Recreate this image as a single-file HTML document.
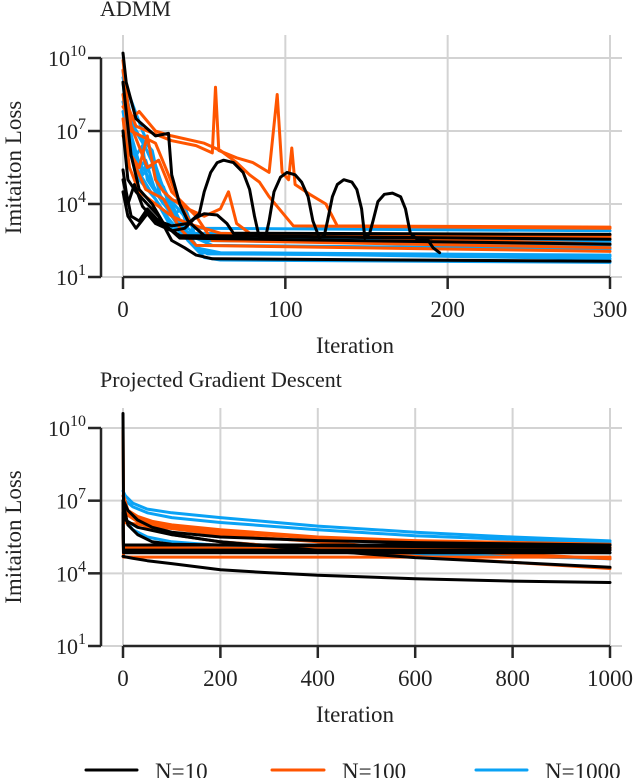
<!DOCTYPE html>
<html><head><meta charset="utf-8"><style>
html,body{margin:0;padding:0;background:#fff;}
svg{display:block;font-family:"Liberation Serif",serif;}
</style></head><body>
<svg id="fig" width="634" height="778" viewBox="0 0 634 778">
<g id="top"></g>
<g id="bot"></g>
<g id="legend">
 <line x1="86" y1="770" x2="137" y2="770" stroke="#000" stroke-width="3" stroke-linecap="round"/>
 <text x="155" y="779" font-size="23" fill="#222">N=10</text>
 <line x1="272" y1="770" x2="324" y2="770" stroke="#ff5500" stroke-width="3" stroke-linecap="round"/>
 <text x="342" y="779" font-size="23" fill="#222">N=100</text>
 <line x1="476" y1="770" x2="527" y2="770" stroke="#0aa2f5" stroke-width="3" stroke-linecap="round"/>
 <text x="545" y="779" font-size="23" fill="#222">N=1000</text>
</g>
</svg>
<script>
// ---- data (log10 of imitation loss) ----
const colors = {k:"#000000", o:"#ff5500", b:"#0aa2f5"};
const xTicksTop = [0,100,200,300];
const xTicksBot = [0,200,400,600,800,1000];
const yTickExps = [1,4,7,10];
const topBlue = [
 [[0,9.5],[2,8],[5,6.5],[10,5.5],[14,5.8],[20,4.5],[25,4.7],[30,3.5],[40,2.5],[50,1.8],[60,1.7],[300,1.6]],
 [[0,9],[3,7],[8,6],[12,6.4],[15,5],[25,4],[28,4.3],[35,3],[45,2.2],[60,2.0],[300,1.9]],
 [[0,8.5],[4,7.5],[10,6.8],[18,6.2],[22,5],[30,4],[34,4.2],[40,3],[50,2.5],[300,2.3]],
 [[0,7.8],[5,6],[12,5.5],[20,4.6],[32,3.6],[38,3.9],[45,2.6],[55,2.3],[300,2.15]],
 [[0,9.2],[6,7.2],[14,6.3],[24,4.8],[36,3.2],[48,2.0],[300,1.75]],
 [[1,8],[10,5],[20,4.2],[30,3],[42,2.8],[300,2.7]],
 [[0,7],[8,5.5],[18,4.4],[28,3.4],[38,2.6],[300,2.45]],
 [[2,8.8],[12,7],[16,6.4],[26,4.4],[34,3.8],[44,3.0],[300,2.9]],
 [[0,8.2],[6,6.6],[12,5.2],[18,5.6],[24,4.1],[32,3.4],[42,2.4],[52,1.95],[300,1.85]]
];
const topOrange = [
 [[0,9.9],[3,8],[8,7.2],[15,7.0],[30,6.6],[45,6.4],[55,6.1],[57,8.8],[59,6.2],[70,5.9],[80,5.7],[90,5.3],[95,8.5],[98,5.3],[102,5.0],[104,6.3],[106,4.8],[115,4.4],[125,4.0],[132,3.1],[300,3.05]],
 [[0,8],[5,7.5],[10,7.8],[20,7.0],[30,6.8],[50,6.5],[60,6.2],[70,5.7],[78,5.2],[84,4.9],[90,4.3],[100,3.5],[105,3.1],[300,3.0]],
 [[0,8.5],[5,6],[10,5.5],[15,6.8],[20,5],[25,4.5],[30,4.2],[40,3.8],[50,3.5],[60,3.8],[65,4.5],[70,3.2],[80,2.7],[300,2.6]],
 [[0,7.5],[4,5.5],[10,4.5],[20,4.0],[30,3.5],[40,3.2],[60,2.8],[300,2.35]],
 [[0,6.8],[6,5.8],[14,4.6],[25,4.2],[35,3.0],[45,2.3],[300,2.05]],
 [[0,9],[5,7],[20,6.5],[28,5.2],[35,4.0],[42,3.2],[50,2.7],[300,2.7]],
 [[0,9.5],[5,7.2],[15,5.5],[22,5.8],[30,4.5],[45,3.5],[55,2.5],[300,2.2]]
];
const topBlack = [
 [[0,10.2],[2,9],[8,7.5],[20,6.8],[28,6.9],[30,5.2],[35,4],[40,3.3],[50,2.7],[300,2.55]],
 [[0,5.4],[2,4.5],[5,3.5],[10,3.3],[15,3.8],[22,3.3],[30,3.1],[40,3.2],[47,3.6],[50,4.5],[54,5.3],[58,5.7],[62,5.8],[68,5.7],[74,5.3],[78,4.6],[81,3.5],[84,2.6],[88,2.7],[90,3.3],[93,4.5],[97,5.1],[101,5.3],[106,5.2],[110,4.9],[114,4.3],[117,3.3],[121,2.6],[124,2.7],[126,3.3],[129,4.3],[132,4.8],[136,5.0],[141,4.9],[144,4.6],[147,3.8],[149,2.6],[152,2.8],[154,3.3],[157,4.1],[161,4.4],[166,4.45],[171,4.3],[174,3.8],[177,2.8],[182,2.5],[188,2.5],[191,2.2],[195,2.0]],
 [[0,4.5],[3,3.5],[8,3.0],[15,3.6],[20,3.2],[30,2.9],[38,3.0],[44,3.4],[50,3.6],[58,3.55],[64,3.2],[68,2.8],[300,2.75]],
 [[0,7],[3,5],[8,4.5],[15,4.0],[22,3.5],[30,2.5],[38,2.2],[45,1.9],[55,1.75],[300,1.65]],
 [[0,9],[5,6],[10,4.6],[18,4.0],[25,3.2],[35,2.6],[300,2.35]],
 [[0,5],[3,4],[7,4.8],[12,3.9],[20,3.3],[28,3.0],[35,2.7],[190,2.6]]
];
const botBlue = [
 [[0,7.4],[5,7.2],[20,6.9],[50,6.65],[100,6.5],[200,6.3],[400,5.95],[600,5.7],[800,5.5],[1000,5.34]],
 [[0,7.2],[5,7.0],[20,6.75],[50,6.5],[100,6.3],[200,6.1],[400,5.8],[600,5.55],[1000,5.25]],
 [[0,6.9],[5,6.2],[20,5.8],[50,5.5],[100,5.3],[200,5.15],[400,5.0],[1000,4.85]],
 [[0,7.0],[10,6.4],[50,5.9],[100,5.6],[200,5.3],[400,5.0],[600,4.8],[1000,4.6]]
];
const botOrange = [
 [[0,9.9],[1,7.2],[10,6.6],[30,6.35],[60,6.15],[100,6.0],[200,5.8],[400,5.5],[600,5.35],[1000,5.2]],
 [[0,7],[1,6.1],[200,5.6],[400,5.3],[600,5.0],[800,4.8],[1000,4.6]],
 [[0,6.5],[1,4.67],[1000,4.67]],
 [[0,6.8],[1,5.05],[1000,5.0]],
 [[0,7.2],[10,6.4],[40,6.0],[100,5.6],[200,5.3],[400,5.0],[600,4.7],[800,4.45],[1000,4.2]],
 [[0,7.0],[10,6.5],[50,6.1],[100,5.9],[200,5.7],[400,5.45],[600,5.3],[1000,5.1]]
];
const botBlack = [
 [[0,10.6],[1,7.0],[10,6.6],[30,6.2],[60,5.9],[100,5.7],[200,5.5],[400,5.35],[600,5.27],[1000,5.17]],
 [[0,7],[1,5.17],[1000,5.17]],
 [[0,6.5],[1,4.96],[1000,4.96]],
 [[0,6],[1,4.85],[1000,4.85]],
 [[0,4.7],[20,4.62],[50,4.52],[100,4.4],[200,4.15],[300,4.02],[400,3.92],[600,3.78],[800,3.68],[1000,3.62]],
 [[0,7],[5,6.2],[30,5.9],[100,5.6],[200,5.3],[400,4.95],[600,4.65],[800,4.45],[1000,4.25]],
 [[0,6.9],[10,6.0],[30,5.6],[60,5.3],[100,5.2],[300,5.15],[1000,5.05]]
];
const NS="http://www.w3.org/2000/svg";
function mk(tag, attrs, parent){const e=document.createElementNS(NS,tag);for(const k in attrs)e.setAttribute(k,attrs[k]);parent.appendChild(e);return e;}
function panel(g, cfg){
 const xs=it=>cfg.x0+it*(cfg.x1-cfg.x0)/cfg.xmax;
 const ys=l=>cfg.y1-(l-1)*(cfg.y1-cfg.y0)/9;
 cfg.xticks.forEach(t=>{const l=mk('line',{x1:xs(t),x2:xs(t),y1:cfg.top,y2:cfg.y1,stroke:'#d3d3d3','stroke-width':2},g);
  
  });
 yTickExps.forEach(t=>{const l=mk('line',{x1:101,x2:622,y1:ys(t),y2:ys(t),stroke:'#d3d3d3','stroke-width':2},g);
  
  });
 [[cfg.blue,'b'],[cfg.orange,'o'],[cfg.black,'k']].forEach(([set,c])=>{
  set.forEach(s=>{const d=s.map((p,i)=>(i?'L':'M')+xs(p[0]).toFixed(1)+','+ys(p[1]).toFixed(1)).join('');
   const p=mk('path',{d:d,fill:'none',stroke:colors[c],'stroke-width':3,'stroke-linejoin':'round','stroke-linecap':'round'},g);
   
   });
 });
 const ls=mk('line',{x1:101,x2:101,y1:ys(10),y2:ys(1),stroke:'#262626','stroke-width':2.5},g);
 
 
 const bs=mk('line',{x1:xs(0),x2:xs(cfg.xmax),y1:cfg.y1,y2:cfg.y1,stroke:'#262626','stroke-width':2.5},g);
 
 
 yTickExps.forEach(t=>{
  const tk=mk('line',{x1:88,x2:101,y1:ys(t),y2:ys(t),stroke:'#262626','stroke-width':2.5},g);
  
  
  const tx=mk('text',{x:86,y:ys(t)+8,'font-size':22,'text-anchor':'end',fill:'#222'},g);
  
  
  const a=mk('tspan',{},tx);a.textContent='10';
  const b=mk('tspan',{'font-size':16,dy:-10},tx);b.textContent=String(t);
 });
 cfg.xticks.forEach(t=>{
  const tk=mk('line',{x1:xs(t),x2:xs(t),y1:cfg.y1,y2:cfg.y1+12,stroke:'#262626','stroke-width':2.5},g);
  
  
  const tx=mk('text',{x:xs(t),y:cfg.y1+40,'font-size':23,'text-anchor':'middle',fill:'#222'},g);
  
  
  tx.textContent=String(t);
 });
 const xl=mk('text',{x:355,y:cfg.y1+76,'font-size':23,'text-anchor':'middle',fill:'#222'},g);
 
 
 xl.textContent='Iteration';
 const cy=(cfg.y0+cfg.y1)/2;
 const yl=mk('text',{x:0,y:0,'font-size':23,'text-anchor':'middle',fill:'#222',transform:'translate(21,'+cy+') rotate(-90)'},g);
 
 
 yl.textContent='Imitaiton Loss';
 const ti=mk('text',{x:100,y:cfg.titleY,'font-size':22,fill:'#222'},g);
 
 
 ti.textContent=cfg.title;
}
panel(document.getElementById('top'),{x0:123,x1:610,xmax:300,y0:58,y1:277,top:35,xticks:xTicksTop,blue:topBlue,orange:topOrange,black:topBlack,title:'ADMM',titleY:16});
panel(document.getElementById('bot'),{x0:123,x1:610,xmax:1000,y0:428,y1:646,top:408,xticks:xTicksBot,blue:botBlue,orange:botOrange,black:botBlack,title:'Projected Gradient Descent',titleY:387});
</script>
</body></html>
